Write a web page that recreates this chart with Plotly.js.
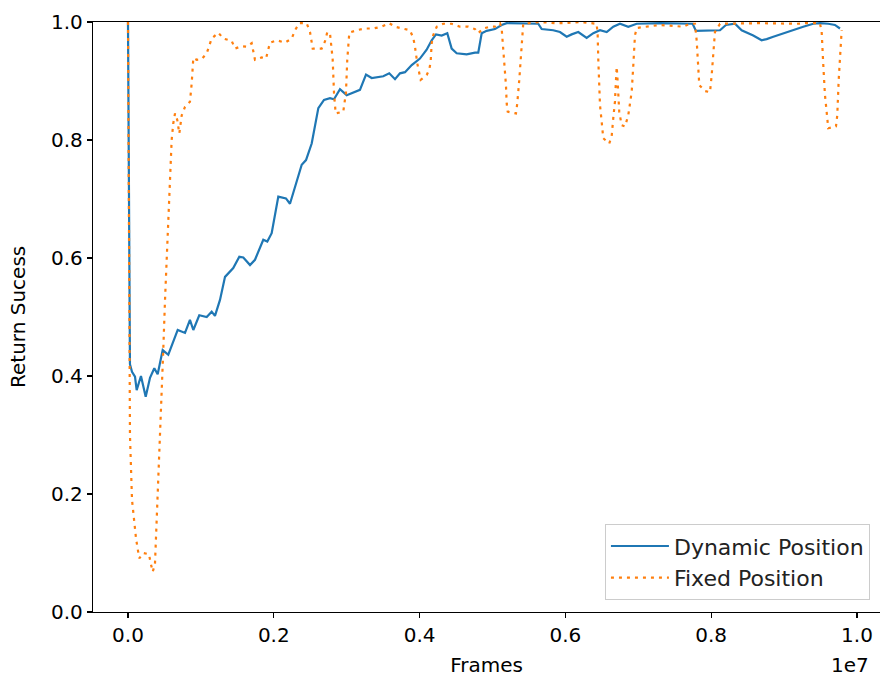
<!DOCTYPE html>
<html>
<head>
<meta charset="utf-8">
<script src="https://cdn.plot.ly/plotly-3.0.1.min.js"></script>
<style>html,body{margin:0;padding:0;background:#fff;}#chart{width:880px;height:677px;}</style>
</head>
<body>
<div id="chart"></div>
<script>
// Frames in millions (scaled to frames below)
const dynamicFramesM = [0,0.027,0.055,0.096,0.119,0.178,0.243,0.302,0.361,0.407,0.476,0.553,0.682,0.782,0.850,0.896,0.978,1.080,1.148,1.193,1.262,1.331,1.444,1.527,1.582,1.674,1.742,1.856,1.911,1.971,2.062,2.167,2.222,2.314,2.383,2.442,2.520,2.611,2.689,2.771,2.826,2.908,3.000,3.182,3.265,3.343,3.502,3.584,3.663,3.731,3.800,3.892,4.005,4.097,4.166,4.225,4.303,4.380,4.440,4.509,4.646,4.760,4.805,4.852,4.920,5.034,5.126,5.195,5.560,5.628,5.675,5.834,5.926,6.018,6.086,6.177,6.292,6.383,6.475,6.567,6.657,6.749,6.863,6.978,7.298,7.664,7.746,7.791,7.938,8.121,8.203,8.327,8.418,8.577,8.693,8.761,8.852,8.989,9.126,9.263,9.400,9.492,9.606,9.698,9.767];
const dynamicSuccess = [1.000,0.420,0.407,0.399,0.376,0.400,0.365,0.397,0.413,0.403,0.444,0.436,0.478,0.473,0.495,0.478,0.503,0.500,0.509,0.502,0.529,0.568,0.583,0.602,0.601,0.588,0.597,0.631,0.628,0.642,0.704,0.701,0.692,0.732,0.758,0.766,0.794,0.854,0.868,0.871,0.869,0.886,0.876,0.885,0.911,0.905,0.908,0.913,0.903,0.913,0.915,0.927,0.938,0.953,0.969,0.979,0.977,0.981,0.955,0.947,0.945,0.948,0.948,0.981,0.985,0.988,0.995,0.998,0.998,0.997,0.988,0.986,0.983,0.975,0.979,0.983,0.973,0.981,0.986,0.983,0.992,0.997,0.992,0.997,0.998,0.998,0.997,0.985,0.985,0.986,0.995,0.997,0.986,0.977,0.969,0.971,0.975,0.981,0.986,0.992,0.997,0.998,0.997,0.995,0.989];

const fixedFramesM = [0,0.014,0.027,0.055,0.082,0.110,0.133,0.155,0.210,0.288,0.311,0.339,0.370,0.380,0.416,0.453,0.484,0.508,0.539,0.567,0.586,0.599,0.621,0.645,0.676,0.704,0.737,0.782,0.850,0.874,0.896,0.942,1.011,1.080,1.148,1.239,1.307,1.422,1.468,1.560,1.628,1.697,1.742,1.834,1.893,1.948,2.040,2.154,2.246,2.291,2.350,2.451,2.497,2.534,2.657,2.702,2.734,2.771,2.808,2.826,2.849,2.953,2.990,3.008,3.036,3.137,3.251,3.365,3.480,3.584,3.663,3.776,3.868,3.914,3.937,3.968,3.996,4.015,4.097,4.133,4.152,4.166,4.188,4.235,4.325,4.440,4.554,4.668,4.760,4.805,4.874,4.966,5.034,5.103,5.126,5.148,5.171,5.185,5.195,5.209,5.322,5.340,5.367,5.387,5.409,5.422,5.652,5.857,5.995,6.200,6.429,6.443,6.451,6.465,6.475,6.498,6.520,6.602,6.635,6.657,6.680,6.694,6.704,6.712,6.726,6.739,6.772,6.818,6.863,6.910,6.932,6.955,6.982,7.115,7.298,7.517,7.617,7.709,7.778,7.801,7.815,7.823,7.837,7.915,7.984,8.007,8.029,8.052,8.121,8.669,9.173,9.287,9.492,9.516,9.538,9.561,9.584,9.606,9.712,9.730,9.749,9.767,9.790];
const fixedSuccess = [1.000,0.550,0.300,0.190,0.155,0.125,0.107,0.091,0.100,0.098,0.083,0.068,0.081,0.111,0.230,0.351,0.444,0.529,0.619,0.709,0.766,0.800,0.828,0.845,0.834,0.811,0.842,0.856,0.865,0.896,0.939,0.936,0.937,0.947,0.972,0.982,0.972,0.968,0.955,0.959,0.958,0.964,0.936,0.940,0.938,0.965,0.969,0.965,0.972,0.986,0.998,0.998,0.983,0.955,0.955,0.967,0.983,0.981,0.936,0.880,0.845,0.848,0.880,0.936,0.982,0.986,0.989,0.989,0.992,0.998,0.992,0.989,0.986,0.973,0.958,0.930,0.913,0.902,0.910,0.919,0.933,0.964,0.978,0.992,0.997,0.997,0.992,0.992,0.988,0.981,0.989,0.992,0.992,0.998,0.989,0.955,0.921,0.893,0.862,0.848,0.845,0.862,0.901,0.933,0.978,0.997,1.000,0.998,0.998,1.000,0.997,0.978,0.938,0.901,0.859,0.831,0.803,0.794,0.806,0.837,0.865,0.901,0.924,0.910,0.882,0.848,0.825,0.823,0.842,0.882,0.927,0.978,0.990,0.992,0.995,0.993,0.992,0.997,0.997,0.969,0.938,0.910,0.893,0.883,0.881,0.910,0.955,0.983,0.997,0.998,0.997,0.998,0.998,0.983,0.927,0.876,0.848,0.820,0.823,0.842,0.901,0.944,0.986];

const xTickValsM = [0,2,4,6,8,10];
const xTickLabels = ['0.0','0.2','0.4','0.6','0.8','1.0'];
const yTickVals = [0,0.2,0.4,0.6,0.8,1.0];
const yTickLabels = ['0.0','0.2','0.4','0.6','0.8','1.0'];
const seriesNames = ['Dynamic Position','Fixed Position'];
const xTitle = 'Frames';
const yTitle = 'Return Sucess';
const offsetText = '1e7';

const M = 1e6;
const FONT = 'DejaVu Sans, sans-serif';
const FS = 20;

const traces = [
  {x: dynamicFramesM.map(v=>v*M), y: dynamicSuccess, name: seriesNames[0], type:'scatter', mode:'lines',
   line:{color:'#1f77b4', width:2.2}},
  {x: fixedFramesM.map(v=>v*M), y: fixedSuccess, name: seriesNames[1], type:'scatter', mode:'lines',
   line:{color:'#ff7f0e', width:2.2, dash:'3px,5px'}}
];

const layout = {
  width:880, height:677,
  margin:{l:93, r:0, t:22, b:65, pad:0},
  paper_bgcolor:'#fff', plot_bgcolor:'#fff',
  font:{family:FONT, size:FS, color:'#000'},
  showlegend:true,
  xaxis:{range:[-0.48*M, 10.316*M], showgrid:false, zeroline:false, showline:true, mirror:true,
    linecolor:'#000', linewidth:1.2, ticks:'outside', ticklen:5, tickwidth:1.2, tickcolor:'#000',
    tickvals:xTickValsM.map(v=>v*M), ticktext:xTickLabels, tickfont:{family:FONT,size:FS,color:'#000'},
    title:{text:xTitle, font:{family:FONT,size:FS,color:'#000'}, standoff:11}},
  yaxis:{range:[0,1], showgrid:false, zeroline:false, showline:true, mirror:false,
    linecolor:'#000', linewidth:1.2, ticks:'outside', ticklen:5, tickwidth:1.2, tickcolor:'#000',
    tickvals:yTickVals, ticktext:yTickLabels, tickfont:{family:FONT,size:FS,color:'#000'}},
  legend:{x:0.6505, y:0.02, xanchor:'left', yanchor:'bottom', bgcolor:'rgba(255,255,255,0.8)',
    bordercolor:'#cccccc', borderwidth:1, font:{family:FONT,size:22,color:'#222'},
    itemwidth:58, tracegroupgap:2},
  annotations:[
    {text:offsetText, xref:'paper', yref:'paper', x:1, y:0, xanchor:'right', yanchor:'middle',
     yshift:-53, xshift:-9, showarrow:false, font:{family:FONT,size:FS,color:'#000'}},
    {text:yTitle, xref:'paper', yref:'paper', x:0, y:0.5, xanchor:'center', yanchor:'middle',
     xshift:-75, textangle:-90, showarrow:false, font:{family:FONT,size:FS,color:'#000'}}
  ]
};

Plotly.newPlot('chart', traces, layout, {displayModeBar:false, staticPlot:true});
</script>
</body>
</html>
